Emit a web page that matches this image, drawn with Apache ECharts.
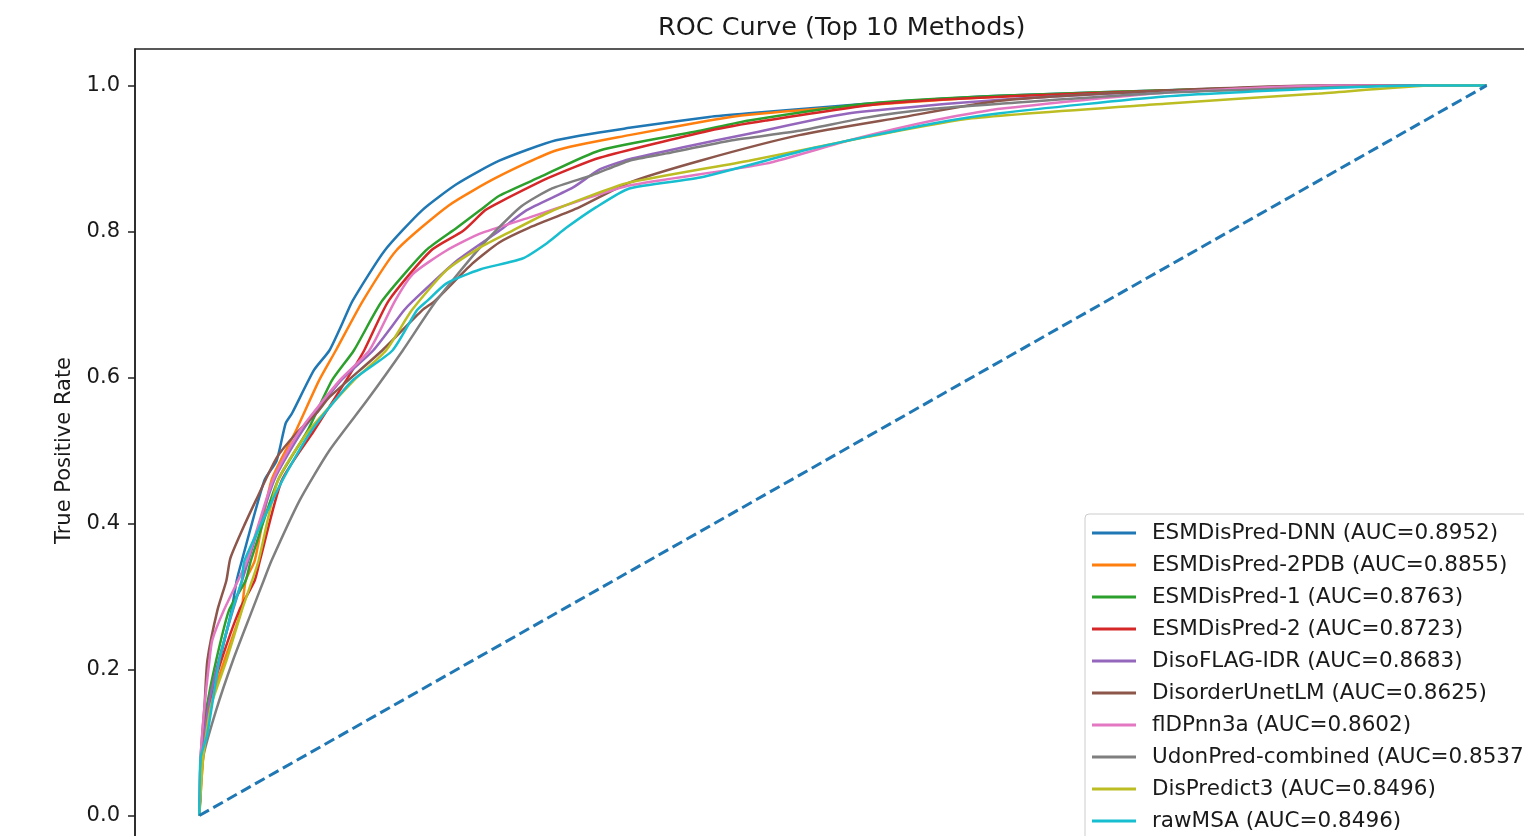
<!DOCTYPE html>
<html>
<head>
<meta charset="utf-8">
<script src="https://cdn.jsdelivr.net/npm/echarts@6/dist/echarts.min.js"></script>
<style>
html,body{margin:0;padding:0;background:#fff;}
#chart{width:1524px;height:836px;}
</style>
</head>
<body>
<div id="chart"></div>
<script>
// ---- data: [FPR, TPR] pairs ----
const methodNames = [
  'ESMDisPred-DNN (AUC=0.8952)',
  'ESMDisPred-2PDB (AUC=0.8855)',
  'ESMDisPred-1 (AUC=0.8763)',
  'ESMDisPred-2 (AUC=0.8723)',
  'DisoFLAG-IDR (AUC=0.8683)',
  'DisorderUnetLM (AUC=0.8625)',
  'flDPnn3a (AUC=0.8602)',
  'UdonPred-combined (AUC=0.8537)',
  'DisPredict3 (AUC=0.8496)',
  'rawMSA (AUC=0.8496)'
];
const rocDNN = [[0,0],[0.002,0.08],[0.006,0.15],[0.0155,0.212],[0.025,0.281],[0.029,0.322],[0.033,0.349],[0.0505,0.459],[0.06,0.486],[0.067,0.537],[0.072,0.551],[0.089,0.61],[0.101,0.637],[0.111,0.674],[0.119,0.705],[0.144,0.774],[0.173,0.829],[0.2,0.865],[0.233,0.897],[0.277,0.925],[0.334,0.942],[0.396,0.957],[0.427,0.962],[0.518,0.975],[0.622,0.986],[0.777,0.995],[0.93,1.0],[1,1]];
const roc2PDB = [[0,0],[0.003,0.08],[0.008,0.15],[0.0194,0.212],[0.0326,0.281],[0.036,0.322],[0.043,0.349],[0.056,0.459],[0.075,0.527],[0.093,0.596],[0.106,0.637],[0.127,0.705],[0.153,0.774],[0.194,0.836],[0.231,0.874],[0.277,0.911],[0.334,0.932],[0.396,0.952],[0.427,0.96],[0.518,0.973],[0.622,0.985],[0.78,0.995],[0.93,1],[1,1]];
const rocESM1 = [[0,0],[0.002,0.08],[0.006,0.15],[0.013,0.212],[0.023,0.281],[0.036,0.322],[0.04,0.349],[0.061,0.459],[0.084,0.527],[0.103,0.596],[0.12,0.637],[0.142,0.705],[0.176,0.774],[0.2,0.805],[0.218,0.829],[0.233,0.849],[0.264,0.874],[0.311,0.911],[0.389,0.938],[0.427,0.952],[0.518,0.975],[0.622,0.986],[0.78,0.995],[0.93,1],[1,1]];
const rocESM2 = [[0,0],[0.002,0.08],[0.007,0.15],[0.017,0.212],[0.031,0.281],[0.043,0.322],[0.047,0.349],[0.064,0.459],[0.089,0.527],[0.114,0.596],[0.128,0.637],[0.147,0.705],[0.18,0.774],[0.205,0.801],[0.222,0.829],[0.233,0.84],[0.272,0.874],[0.311,0.901],[0.396,0.938],[0.44,0.952],[0.53,0.975],[0.64,0.986],[0.79,0.995],[0.93,1],[1,1]];
const rocDisoFLAG = [[0,0],[0.002,0.08],[0.007,0.15],[0.015,0.212],[0.026,0.281],[0.038,0.349],[0.058,0.459],[0.08,0.527],[0.11,0.596],[0.135,0.637],[0.159,0.692],[0.166,0.705],[0.2,0.76],[0.233,0.801],[0.254,0.829],[0.29,0.86],[0.311,0.885],[0.334,0.899],[0.375,0.915],[0.427,0.934],[0.505,0.962],[0.62,0.98],[0.75,0.992],[0.9,1],[1,1]];
const rocUnetLM = [[0,0],[0.001,0.08],[0.004,0.15],[0.0062,0.212],[0.014,0.281],[0.021,0.322],[0.024,0.352],[0.033,0.39],[0.044,0.432],[0.06,0.49],[0.075,0.523],[0.091,0.551],[0.101,0.573],[0.142,0.637],[0.173,0.692],[0.183,0.705],[0.212,0.756],[0.233,0.785],[0.256,0.805],[0.295,0.833],[0.334,0.867],[0.389,0.897],[0.466,0.932],[0.544,0.956],[0.622,0.979],[0.75,0.993],[0.87,1],[1,1]];
const rocFlDPnn = [[0,0],[0.001,0.08],[0.004,0.15],[0.0078,0.212],[0.01,0.24],[0.019,0.281],[0.037,0.349],[0.057,0.459],[0.078,0.527],[0.109,0.596],[0.132,0.637],[0.152,0.705],[0.166,0.742],[0.192,0.774],[0.218,0.797],[0.256,0.819],[0.295,0.842],[0.334,0.863],[0.44,0.893],[0.505,0.925],[0.57,0.952],[0.622,0.968],[0.75,0.99],[0.88,1],[1,1]];
const rocUdon = [[0,0],[0.003,0.08],[0.013,0.144],[0.026,0.212],[0.041,0.281],[0.05,0.322],[0.056,0.349],[0.078,0.432],[0.101,0.5],[0.13,0.568],[0.158,0.637],[0.184,0.705],[0.218,0.778],[0.249,0.833],[0.274,0.859],[0.305,0.877],[0.334,0.897],[0.363,0.907],[0.414,0.925],[0.466,0.938],[0.518,0.956],[0.57,0.968],[0.622,0.975],[0.75,0.99],[0.87,0.997],[0.94,1],[1,1]];
const rocDisPredict3 = [[0,0],[0.003,0.08],[0.009,0.15],[0.021,0.212],[0.033,0.281],[0.041,0.322],[0.046,0.349],[0.061,0.459],[0.085,0.527],[0.12,0.596],[0.145,0.637],[0.165,0.692],[0.192,0.747],[0.218,0.778],[0.243,0.801],[0.27,0.825],[0.301,0.847],[0.334,0.867],[0.427,0.897],[0.52,0.93],[0.6,0.955],[0.75,0.975],[0.87,0.989],[0.96,1],[1,1]];
const rocRawMSA = [[0,0],[0.001,0.08],[0.006,0.11],[0.0155,0.212],[0.0256,0.281],[0.033,0.322],[0.035,0.349],[0.0645,0.459],[0.087,0.527],[0.119,0.596],[0.15,0.637],[0.169,0.692],[0.177,0.705],[0.192,0.729],[0.218,0.748],[0.251,0.763],[0.27,0.784],[0.285,0.805],[0.308,0.833],[0.334,0.859],[0.389,0.874],[0.479,0.915],[0.57,0.948],[0.622,0.962],[0.75,0.985],[0.87,0.996],[0.95,1],[1,1]];
const chanceLine = [[0,0],[1,1]];
const yTickValues = [0, 0.2, 0.4, 0.6, 0.8, 1.0];
const colors = ['#1f77b4','#ff7f0e','#2ca02c','#d62728','#9467bd','#8c564b','#e377c2','#7f7f7f','#bcbd22','#17becf'];
const rocData = [rocDNN, roc2PDB, rocESM1, rocESM2, rocDisoFLAG, rocUnetLM, rocFlDPnn, rocUdon, rocDisPredict3, rocRawMSA];

const FONT = 'DejaVu Sans';
const chart = echarts.init(document.getElementById('chart'), null, {renderer: 'canvas'});

const series = rocData.map((d, i) => ({
  name: methodNames[i],
  type: 'line',
  data: d,
  symbol: 'none',
  smooth: 0.2,
  lineStyle: {color: colors[i], width: 2.5},
  itemStyle: {color: colors[i]},
  emphasis: {disabled: true},
  z: 2
}));
series.push({
  name: 'chance',
  type: 'line',
  data: chanceLine,
  symbol: 'none',
  lineStyle: {color: '#1f77b4', width: 3, type: [11, 5]},
  emphasis: {disabled: true},
  z: 3
});

chart.setOption({
  animation: false,
  backgroundColor: '#fff',
  title: {
    text: 'ROC Curve (Top 10 Methods)',
    left: 658, top: 15, padding: 0,
    textStyle: {fontFamily: FONT, fontSize: 25.5, fontWeight: 'normal', color: '#1a1a1a'}
  },
  grid: {
    left: 135, top: 49, width: 1416, height: 803,
    outerBoundsMode: 'none', containLabel: false,
    show: true, borderColor: '#222', borderWidth: 1.5, backgroundColor: 'transparent'
  },
  legend: {
    data: methodNames,
    orient: 'vertical',
    left: 1085, top: 514, height: 420,
    padding: [8, 10, 8, 7],
    icon: 'rect',
    itemWidth: 44, itemHeight: 3, itemGap: 10,
    backgroundColor: 'rgba(255,255,255,0.85)',
    borderColor: '#cccccc', borderWidth: 1, borderRadius: 4,
    textStyle: {fontFamily: FONT, fontSize: 21.5, lineHeight: 20, color: '#1a1a1a', padding: [0, 0, 0, 11]},
    selectedMode: false,
    z: 10
  },
  xAxis: {
    type: 'value', min: -0.05, max: 1.05,
    splitLine: {show: false},
    axisLine: {onZero: false, lineStyle: {color: '#222', width: 1.5}},
    axisTick: {length: 7, lineStyle: {color: '#222', width: 1.5}},
    axisLabel: {fontFamily: FONT, fontSize: 21, color: '#1a1a1a'}
  },
  yAxis: {
    type: 'value', min: -0.05, max: 1.05,
    name: 'True Positive Rate', nameLocation: 'middle', nameGap: 60,
    nameTextStyle: {fontFamily: FONT, fontSize: 21, color: '#1a1a1a'},
    splitLine: {show: false},
    axisLine: {show: true, onZero: false, lineStyle: {color: '#222', width: 1.5}},
    axisTick: {show: true, length: 7, customValues: yTickValues, lineStyle: {color: '#222', width: 1.5}},
    axisLabel: {
      customValues: yTickValues, margin: 15,
      fontFamily: FONT, fontSize: 21, color: '#1a1a1a',
      formatter: v => v.toFixed(1)
    }
  },
  series: series
});
</script>
</body>
</html>
